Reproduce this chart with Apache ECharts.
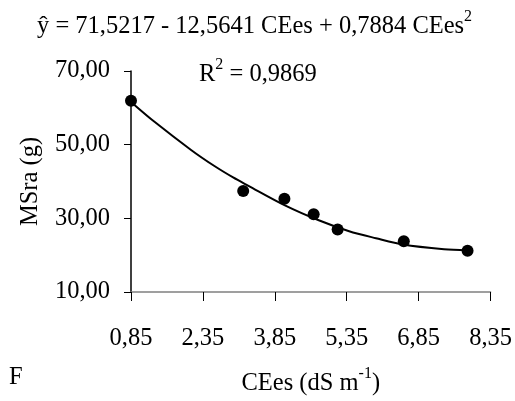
<!DOCTYPE html>
<html>
<head>
<meta charset="utf-8">
<script src="https://cdn.jsdelivr.net/npm/echarts@6/dist/echarts.min.js"></script>
<style>
  html, body { margin: 0; padding: 0; background: #fff; }
  #chart { width: 515px; height: 401px; }
</style>
</head>
<body>
<div id="chart"></div>
<script>
// observed points (CEes, MSra)
var obsX = [0.85, 3.19, 4.05, 4.66, 5.16, 6.54, 7.87];
var obsY = [61.9, 37.4, 35.3, 31.1, 27.0, 23.8, 21.2];

// fitted curve
var fitX = [0.85, 1.34, 2.11, 2.59, 2.98, 3.29, 4.05, 4.78, 5.40, 5.96, 6.52, 7.38, 7.87];
var fitY = [61.6, 56.2, 48.5, 44.2, 41.1, 38.9, 33.6, 29.4, 26.5, 24.6, 22.9, 21.6, 21.3];

// axis ticks
var xTicks = [0.85, 2.35, 3.85, 5.35, 6.85, 8.35];
var yTicks = [10, 30, 50, 70];

var FONT = 'Liberation Serif';
var FS = 24.5;
var X0 = xTicks[0]; // x axis is shifted so ticks start at 0

function comma(v) {
  return v.toFixed(2).replace('.', ',');
}

var supRich = {
  m: { fontFamily: FONT, fontSize: FS, lineHeight: 30, verticalAlign: 'bottom', color: '#000', fill: '#000' },
  s: { fontFamily: FONT, fontSize: 16, lineHeight: 14, verticalAlign: 'top', color: '#000', fill: '#000' }
};

var chart = echarts.init(document.getElementById('chart'), null, { renderer: 'canvas' });

var option = {
  backgroundColor: '#fff',
  animation: false,
  grid: { left: 131, right: 23, top: 71, bottom: 100 },
  xAxis: {
    type: 'value',
    min: 0,
    max: xTicks[xTicks.length - 1] - X0,
    interval: 1.5,
    splitLine: { show: false },
    axisLine: { lineStyle: { color: '#808080', width: 1.5 } },
    axisTick: { length: 9, lineStyle: { color: '#000', width: 1 } },
    axisLabel: {
      margin: 34,
      color: '#000',
      fontFamily: FONT,
      fontSize: FS,
      formatter: function (v) { return comma(v + X0); }
    },
    name: '{m|CEes (dS m}{s|-1}{m|)}',
    nameLocation: 'middle',
    nameGap: 74,
    nameTextStyle: { color: '#000', rich: supRich }
  },
  yAxis: {
    type: 'value',
    min: yTicks[0],
    max: yTicks[yTicks.length - 1],
    interval: 20,
    splitLine: { show: false },
    axisLine: { show: true, lineStyle: { color: '#000', width: 1.5 } },
    axisTick: { show: true, length: 7, lineStyle: { color: '#000', width: 1 } },
    axisLabel: {
      margin: 21,
      color: '#000',
      fontFamily: FONT,
      fontSize: FS,
      formatter: function (v) { return comma(v); }
    },
    name: 'MSra (g)',
    nameLocation: 'middle',
    nameGap: 88,
    nameTextStyle: { color: '#000', fontFamily: FONT, fontSize: FS }
  },
  graphic: [
    {
      type: 'text',
      left: 37,
      top: 9,
      style: { text: '{m|ŷ = 71,5217 - 12,5641 CEes + 0,7884 CEes}{s|2}', rich: supRich }
    },
    {
      type: 'text',
      left: 199,
      top: 57,
      style: { text: '{m|R}{s|2}{m| = 0,9869}', rich: supRich }
    },
    {
      type: 'text',
      left: 9,
      top: 365,
      style: { text: 'F', fontFamily: FONT, fontSize: FS, fill: '#000' }
    }
  ],
  series: [
    {
      type: 'line',
      data: fitX.map(function (x, i) { return [x - X0, fitY[i]]; }),
      smooth: 0.3,
      showSymbol: false,
      lineStyle: { color: '#000', width: 2 },
      z: 2
    },
    {
      type: 'scatter',
      data: obsX.map(function (x, i) { return [x - X0, obsY[i]]; }),
      symbol: 'circle',
      symbolSize: 12,
      itemStyle: { color: '#000', opacity: 1 },
      z: 3
    }
  ]
};

chart.setOption(option);
</script>
</body>
</html>
